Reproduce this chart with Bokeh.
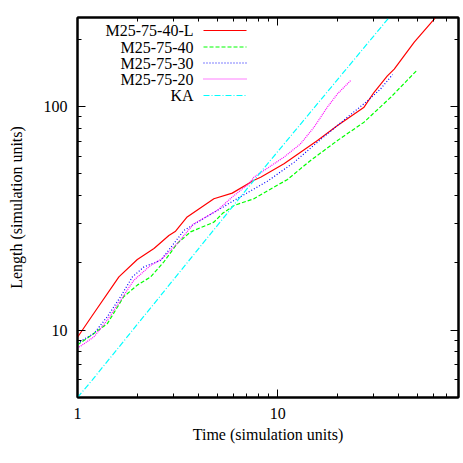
from bokeh.plotting import figure
from bokeh.models import LogAxis, FixedTicker, Label, Arrow, Range1d, BasicTickFormatter, CustomJSTickFormatter
from bokeh.embed import file_html
from bokeh.resources import INLINE

# ---- data ----
t_40L = [1.0, 1.207, 1.61, 1.99, 2.41, 2.86, 3.09, 3.53, 4.8, 5.93, 7.61, 8.22, 10.75, 15.8, 19.9, 27.0, 30.3, 35.3, 38.2, 48.1, 60.5, 63.0]
L_40L = [9.3, 11.9, 17.3, 20.7, 23.2, 26.5, 27.7, 32.1, 38.7, 41.0, 46.8, 48.3, 55.5, 70.5, 82.2, 99.3, 115.8, 137, 147, 194, 246, 258]

t_40 = [1.0, 1.207, 1.41, 1.70, 1.99, 2.32, 2.70, 3.15, 3.67, 4.8, 5.29, 6.05, 7.61, 11.2, 14.6, 19.9, 27.0, 36.7, 49.9]
L_40 = [8.6, 9.66, 10.7, 14.1, 15.9, 17.3, 20.2, 24.4, 27.5, 30.4, 33.2, 36.1, 38.7, 47.2, 57.4, 70.5, 85.1, 110, 146]

t_30 = [1.0, 1.207, 1.41, 1.64, 1.88, 2.15, 2.60, 3.03, 3.40, 3.97, 4.99, 6.05, 8.88, 12.1, 15.8, 22.3, 28.1, 32.7, 37.5]
L_30 = [8.75, 9.66, 11.5, 14.1, 17.3, 19.2, 20.5, 24.4, 27.9, 30.4, 34.3, 38.0, 46.3, 56.4, 69.3, 89.6, 106, 120, 139]

t_20 = [1.0, 1.207, 1.41, 1.64, 1.91, 2.32, 2.65, 3.15, 3.81, 4.99, 5.93, 7.19, 7.61, 10.75, 13.0, 15.2, 17.7, 19.9, 23.2]
L_20 = [8.3, 9.33, 11.1, 13.6, 16.7, 19.5, 20.9, 24.4, 29.9, 34.3, 39.4, 45.2, 48.3, 59.4, 68.1, 80.9, 99.3, 114, 131]

t_KA = [1.0, 1.184, 7.61, 36.0]
L_KA = [5.0, 5.98, 46.8, 250.0]

labels = ["M25-75-40-L", "M25-75-40", "M25-75-30", "M25-75-20", "KA"]
colors = ["#ff0000", "#00ff00", "#0000ff", "#ff00ff", "#00ffff"]
dashes = ["solid", "4 2", "1 2", "1 1", "6 2 1 2"]

x_major = [1, 10]
x_minor = [2, 3, 4, 5, 6, 7, 8, 9, 20, 30, 40, 50, 60, 70, 80]
y_major = [10, 100]
y_minor = [5, 6, 7, 8, 9, 20, 30, 40, 50, 60, 70, 80, 90, 200]

FONT = "Liberation Serif"

p = figure(frame_width=381, frame_height=380,
           x_axis_type="log", y_axis_type="log",
           x_range=Range1d(1, 80), y_range=Range1d(5, 250),
           output_backend="svg", toolbar_location=None,
           min_border_left=77, min_border_top=17, min_border_right=4, min_border_bottom=64)

p.background_fill_color = "white"
p.border_fill_color = "white"
p.outline_line_color = "black"
p.outline_line_width = 2
p.xgrid.visible = False
p.ygrid.visible = False

def style_axis(ax, major, minor, show_labels):
    ax.ticker = FixedTicker(ticks=major, minor_ticks=minor)
    ax.major_tick_in = 8
    ax.major_tick_out = 0
    ax.minor_tick_in = 4
    ax.minor_tick_out = 0
    ax.major_tick_line_color = "black"
    ax.minor_tick_line_color = "black"
    ax.major_tick_line_width = 1
    ax.minor_tick_line_width = 1
    ax.axis_line_color = "black"
    ax.axis_line_width = 2
    ax.major_label_text_font = FONT
    ax.major_label_text_font_size = "16px"
    ax.major_label_text_color = "black"
    ax.axis_label_text_font = FONT
    ax.axis_label_text_font_size = "16px"
    ax.axis_label_text_font_style = "normal"
    ax.axis_label_text_color = "black"
    if show_labels:
        ax.formatter = BasicTickFormatter()
    else:
        ax.formatter = CustomJSTickFormatter(code="return ''")
        ax.major_label_standoff = 0

style_axis(p.xaxis[0], x_major, x_minor, True)
style_axis(p.yaxis[0], y_major, y_minor, True)
p.xaxis[0].axis_label = "Time (simulation units)"
p.yaxis[0].axis_label = "Length (simulation units)"
p.xaxis[0].major_label_standoff = 10
p.yaxis[0].major_label_standoff = 10
p.xaxis[0].axis_label_standoff = 4
p.yaxis[0].axis_label_standoff = 16

top = LogAxis()
right = LogAxis()
style_axis(top, x_major, x_minor, False)
style_axis(right, y_major, y_minor, False)
p.add_layout(top, "above")
p.add_layout(right, "right")

series = [(t_40L, L_40L), (t_40, L_40), (t_30, L_30), (t_20, L_20), (t_KA, L_KA)]
for (xs, ys), c, d in zip(series, colors, dashes):
    p.line(xs, ys, line_color=c, line_width=1.2, line_dash=d)

# legend (gnuplot style: text right-aligned, sample line after)
row_y = [367, 350.5, 334.5, 318.5, 302]
for lab, c, d, yy in zip(labels, colors, dashes, row_y):
    p.add_layout(Label(x=116, y=yy, x_units="screen", y_units="screen", text=lab,
                       text_align="right", text_baseline="middle",
                       text_font=FONT, text_font_size="16px", text_color="black"))
    p.add_layout(Arrow(end=None, x_start=126, y_start=yy, x_end=169, y_end=yy,
                       start_units="screen", end_units="screen",
                       line_color=c, line_width=1.2, line_dash=d))

open("out.html", "w").write(file_html(p, INLINE))
